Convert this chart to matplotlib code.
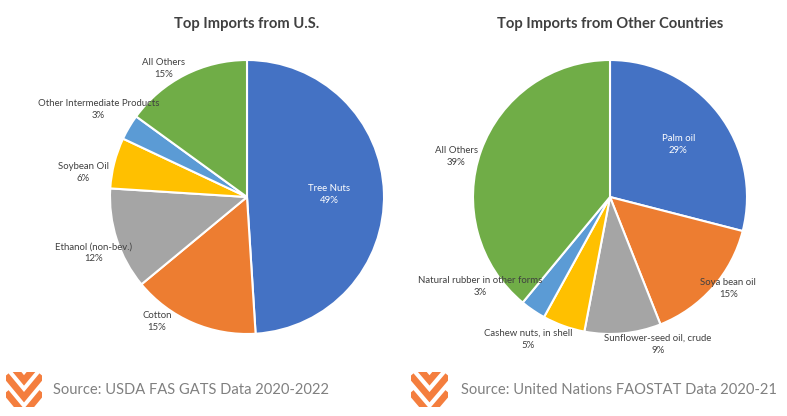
import numpy as np
import matplotlib
matplotlib.use("Agg")
import matplotlib.pyplot as plt

plt.rcParams['font.family'] = ['Lato', 'DejaVu Sans']

# left pie: imports from the U.S.
us_labels = ["Tree Nuts", "Cotton", "Ethanol (non-bev.)", "Soybean Oil",
             "Other Intermediate Products", "All Others"]
us_values = [49, 15, 12, 6, 3, 15]

# right pie: imports from other countries
other_labels = ["Palm oil", "Soya bean oil", "Sunflower-seed oil, crude",
                "Cashew nuts, in shell", "Natural rubber in other forms", "All Others"]
other_values = [29, 15, 9, 5, 3, 39]

colors = ["#4472C4", "#ED7D31", "#A5A5A5", "#FFC000", "#5B9BD5", "#70AD47"]
text_col = "#404040"

W, H = 787, 416
fig = plt.figure(figsize=(W / 100, H / 100), dpi=100)


def draw_pie(cx, cy, r, labels, values, title, dists, shifts, inside):
    ax = fig.add_axes([(cx - r) / W, (H - cy - r) / H, 2 * r / W, 2 * r / H])
    wedges, _ = ax.pie(values, colors=colors, startangle=90, counterclock=False,
                       wedgeprops=dict(edgecolor="white", linewidth=1.5))
    ax.set_xlim(-1, 1)
    ax.set_ylim(-1, 1)
    total = sum(values)
    for i, w in enumerate(wedges):
        mid = np.deg2rad((w.theta1 + w.theta2) / 2 + shifts[i])
        x, y = dists[i] * np.cos(mid), dists[i] * np.sin(mid)
        col = "white" if i in inside else text_col
        ax.text(x, y, f"{labels[i]}\n{round(100 * values[i] / total)}%",
                ha="center", va="center", fontsize=6.9, color=col, linespacing=1.45)
    fig.text(cx / W, 1 - 24 / H, title, ha="center", va="center",
             fontsize=10.6, fontweight="bold", color=text_col)


draw_pie(247, 197, 137, us_labels, us_values, "Top Imports from U.S.",
         [0.6, 1.12, 1.19, 1.21, 1.26, 1.12], [0, -12.6, 2, 6, 0, 6], [0])
draw_pie(610, 197, 137, other_labels, other_values, "Top Imports from Other Countries",
         [0.63, 1.09, 1.13, 1.2, 1.15, 1.16], [0, 3.8, 12.6, -10, -21, 5], [0])


def draw_logo(x0, y0, w, h):
    lax = fig.add_axes([x0 / W, (H - y0 - h) / H, w / W, h / H])
    lax.set_xlim(0, 1)
    lax.set_ylim(0, 1)
    lax.axis("off")
    for yv in [-0.2, 0.28, 0.76, 1.24]:
        lax.plot([0, 0.5, 1], [yv + 0.62, yv, yv + 0.62], color="#F47E3E",
                 lw=4.8, solid_joinstyle="miter", solid_capstyle="butt")


draw_logo(6, 372, 36, 35)
draw_logo(411, 372, 37, 35)

fig.text(53 / W, 1 - 390 / H, "Source: USDA FAS GATS Data 2020-2022",
         ha="left", va="center", fontsize=10.6, color="#808080")
fig.text(461 / W, 1 - 390 / H, "Source: United Nations FAOSTAT Data 2020-21",
         ha="left", va="center", fontsize=10.6, color="#808080")

fig.savefig("out.png", dpi=100, facecolor="white")
